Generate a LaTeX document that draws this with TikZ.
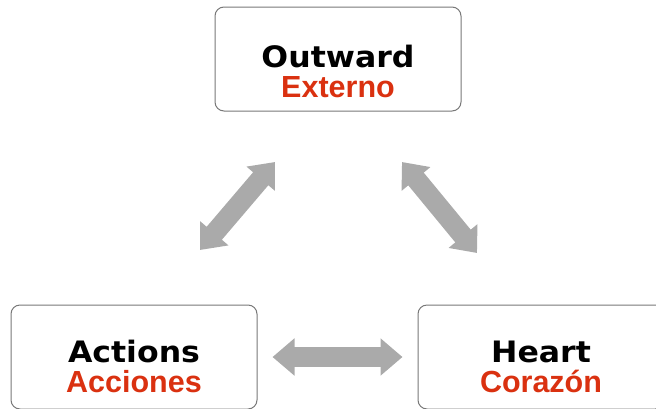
\documentclass[tikz,border=0pt]{standalone}
\usepackage{fontspec}
\usetikzlibrary{calc,positioning,arrows.meta}
\newfontfamily\engfont{DejaVu Sans Bold}[FakeStretch=1.07]
\newfontfamily\espfont{Liberation Sans Bold}
\definecolor{boxline}{RGB}{120,120,120}
\definecolor{arrowgray}{RGB}{170,170,170}
\definecolor{espred}{RGB}{218,49,16}

\begin{document}
\begin{tikzpicture}[x=1pt,y=-1pt,
    box/.style={draw=boxline,line width=1pt,rounded corners=9pt,fill=white,
      minimum width=246pt,minimum height=104pt,inner sep=0pt},
    eng/.style={font=\engfont\fontsize{29.5}{29.5}\selectfont,text=black,anchor=base,inner sep=0pt},
    esp/.style={font=\espfont\fontsize{30.5}{30.5}\selectfont,text=espred,anchor=base,inner sep=0pt},
    dblarrow/.style={draw=arrowgray,line width=20pt,
      {Triangle[length=22pt,width=36pt]}-{Triangle[length=22pt,width=36pt]}}]
    \useasboundingbox (0,0) rectangle (656,408);
    \clip (0,0) rectangle (656,408);

    \node[box] (outbox) at (338,59) {};
    \node[box] (actbox) at (134,357) {};
    \node[box] (heartbox) at (541,357) {};

    \node[eng] (outward) at ([yshift=-61pt]outbox.north) {Outward};
    \node[esp] (externo) at ([yshift=-91pt]outbox.north) {Externo};
    \node[eng] (actions) at ([yshift=-58pt]actbox.north) {Actions};
    \node[esp] (acciones) at ([yshift=-88pt]actbox.north) {Acciones};
    \node[eng] (heart) at ([yshift=-58pt]heartbox.north) {Heart};
    \node[esp] (corazon) at ([yshift=-88pt]heartbox.north) {Corazón};

    % arrow ends
    \coordinate (lefttip) at (200,250);
    \coordinate (lefttop) at (275,162);
    \coordinate (righttop) at (402,162);
    \coordinate (righttip) at (477,253);

    \draw[dblarrow] (lefttip) -- (lefttop);
    \draw[dblarrow] (righttop) -- (righttip);
    \draw[dblarrow,shorten <=15pt,shorten >=15pt] (actbox.east) -- (heartbox.west);
  \end{tikzpicture}
\end{document}
